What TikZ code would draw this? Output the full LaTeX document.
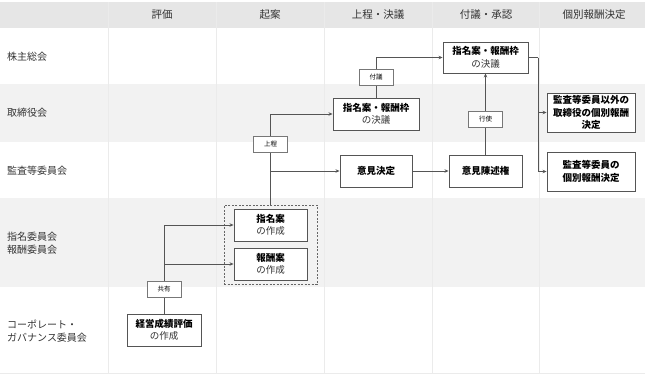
\documentclass[tikz,border=0pt]{standalone}
\usepackage{fontspec}
\setmainfont{Noto Sans CJK JP}
\usetikzlibrary{positioning,arrows.meta}
\definecolor{headgray}{HTML}{E6E6E6}
\definecolor{rowgray}{HTML}{F2F2F2}
\definecolor{sepgray}{HTML}{EBEBEB}
\definecolor{linegray}{HTML}{555555}
\definecolor{txtgray}{HTML}{333333}

\begin{document}
\begin{tikzpicture}[x=1pt, y=-1pt,
  font=\fontsize{9.5}{12.5}\selectfont,
  head/.style={text=txtgray, font=\fontsize{10.5}{12}\selectfont},
  rowlab/.style={anchor=west, align=left, text=txtgray, inner sep=0pt,
                 font=\fontsize{10}{12.5}\selectfont},
  box/.style={rectangle, draw=linegray, line width=0.9pt, fill=white,
              align=center, inner sep=1pt, minimum height=32pt},
  boldbox/.style={box, font=\fontsize{9.5}{12.5}\selectfont\bfseries},
  group/.style={rectangle, draw=linegray!90, dashed, dash pattern=on 2pt off 1.5pt,
                line width=0.8pt},
  tag/.style={rectangle, draw=linegray!80, line width=0.7pt, fill=white,
              minimum width=34pt, minimum height=16pt, inner sep=1pt,
              font=\fontsize{6.5}{7}\selectfont},
  line/.style={draw=linegray, line width=0.8pt},
  arr/.style={-{Stealth[length=4pt, width=3.5pt]}, draw=linegray, line width=0.8pt}
]
\useasboundingbox (0,0) rectangle (645,375);

% bands and column lines
\fill[headgray] (0,2) rectangle (645,28);
\fill[rowgray] (0,84) rectangle (645,142);
\fill[rowgray] (0,198) rectangle (645,287);
\foreach \cx in {108,216,324,432,539}
  \draw[sepgray, line width=0.6pt] (\cx,2) -- (\cx,373);
\draw[sepgray, line width=0.6pt] (0,373.5) -- (645,373.5);

% header
\foreach \txt [count=\i] in {評価, 起案, 上程・決議, 付議・承認, 個別報酬決定}
  \node[head] (head\i) at ({54+108*\i},15) {\txt};

% row labels
\node[rowlab] (r1) at (7,57)  {株主総会};
\node[rowlab] (r2) at (7,113) {取締役会};
\node[rowlab] (r3) at (7,171) {監査等委員会};
\node[rowlab] (r4) at (7,243) {指名委員会\\報酬委員会};
\node[rowlab] (r5) at (7,331) {コーポレート・\\ガバナンス委員会};

% boxes
\node[box, minimum width=85pt, minimum height=31pt] (sokai) at (485.5,57.5)
  {\textbf{指名案・報酬枠}\\{\color{txtgray}の決議}};
\node[box, minimum width=86pt] (torikessai) at (376,114)
  {\textbf{指名案・報酬枠}\\{\color{txtgray}の決議}};
\node[boldbox, minimum width=72pt] (iken) at (376,171) {意見決定};
\node[boldbox, minimum width=73pt] (chinjutsu) at (485.5,171) {意見陳述権};
\node[boldbox, minimum width=88pt, minimum height=39pt] (kobetsuA) at (591,112.5)
  {監査等委員以外の\\取締役の個別報酬\\決定};
\node[boldbox, minimum width=88pt, minimum height=39pt] (kobetsuB) at (591,171.5)
  {監査等委員の\\個別報酬決定};

\node[group, minimum width=93pt, minimum height=79pt] (sakusei) at (270.5,244.5) {};
\node[box, minimum width=73pt] (shimei) at (270.5,225)
  {\textbf{指名案}\\{\color{txtgray}の作成}};
\node[box, minimum width=73pt] (hoshu) at (270.5,264)
  {\textbf{報酬案}\\{\color{txtgray}の作成}};
\node[box, minimum width=74pt] (keiei) at (164,330)
  {\textbf{経営成績評価}\\{\color{txtgray}の作成}};

% connectors
\draw[arr] (sakusei.north) |- (torikessai.west);
\coordinate (jo) at (sakusei.north |- iken.west);
\draw[arr] (jo) -- (iken.west);
\draw[arr] (torikessai.north) |- (sokai.west);
\draw[arr] (chinjutsu.north) -- (sokai.south);
\draw[arr] (iken.east) -- (chinjutsu.west);
\coordinate (bunki) at (538,57.5);
\draw[line] (sokai.east) -- (bunki);
\draw[arr] (bunki) |- (kobetsuA.west);
\draw[arr] (bunki) |- (kobetsuB.west);
\draw[arr] (keiei.north) |- (shimei.west);
\coordinate (kyo) at (keiei.north |- hoshu.west);
\draw[arr] (kyo) -- (hoshu.west);

% tags on lines
\node[tag] (fugi)   at (376,77.5)  {付議};
\node[tag] (koushi) at (485.5,119) {行使};
\node[tag] (jotei)  at (270.5,144) {上程};
\node[tag] (kyoyu)  at (164,289)   {共有};
\end{tikzpicture}
\end{document}
